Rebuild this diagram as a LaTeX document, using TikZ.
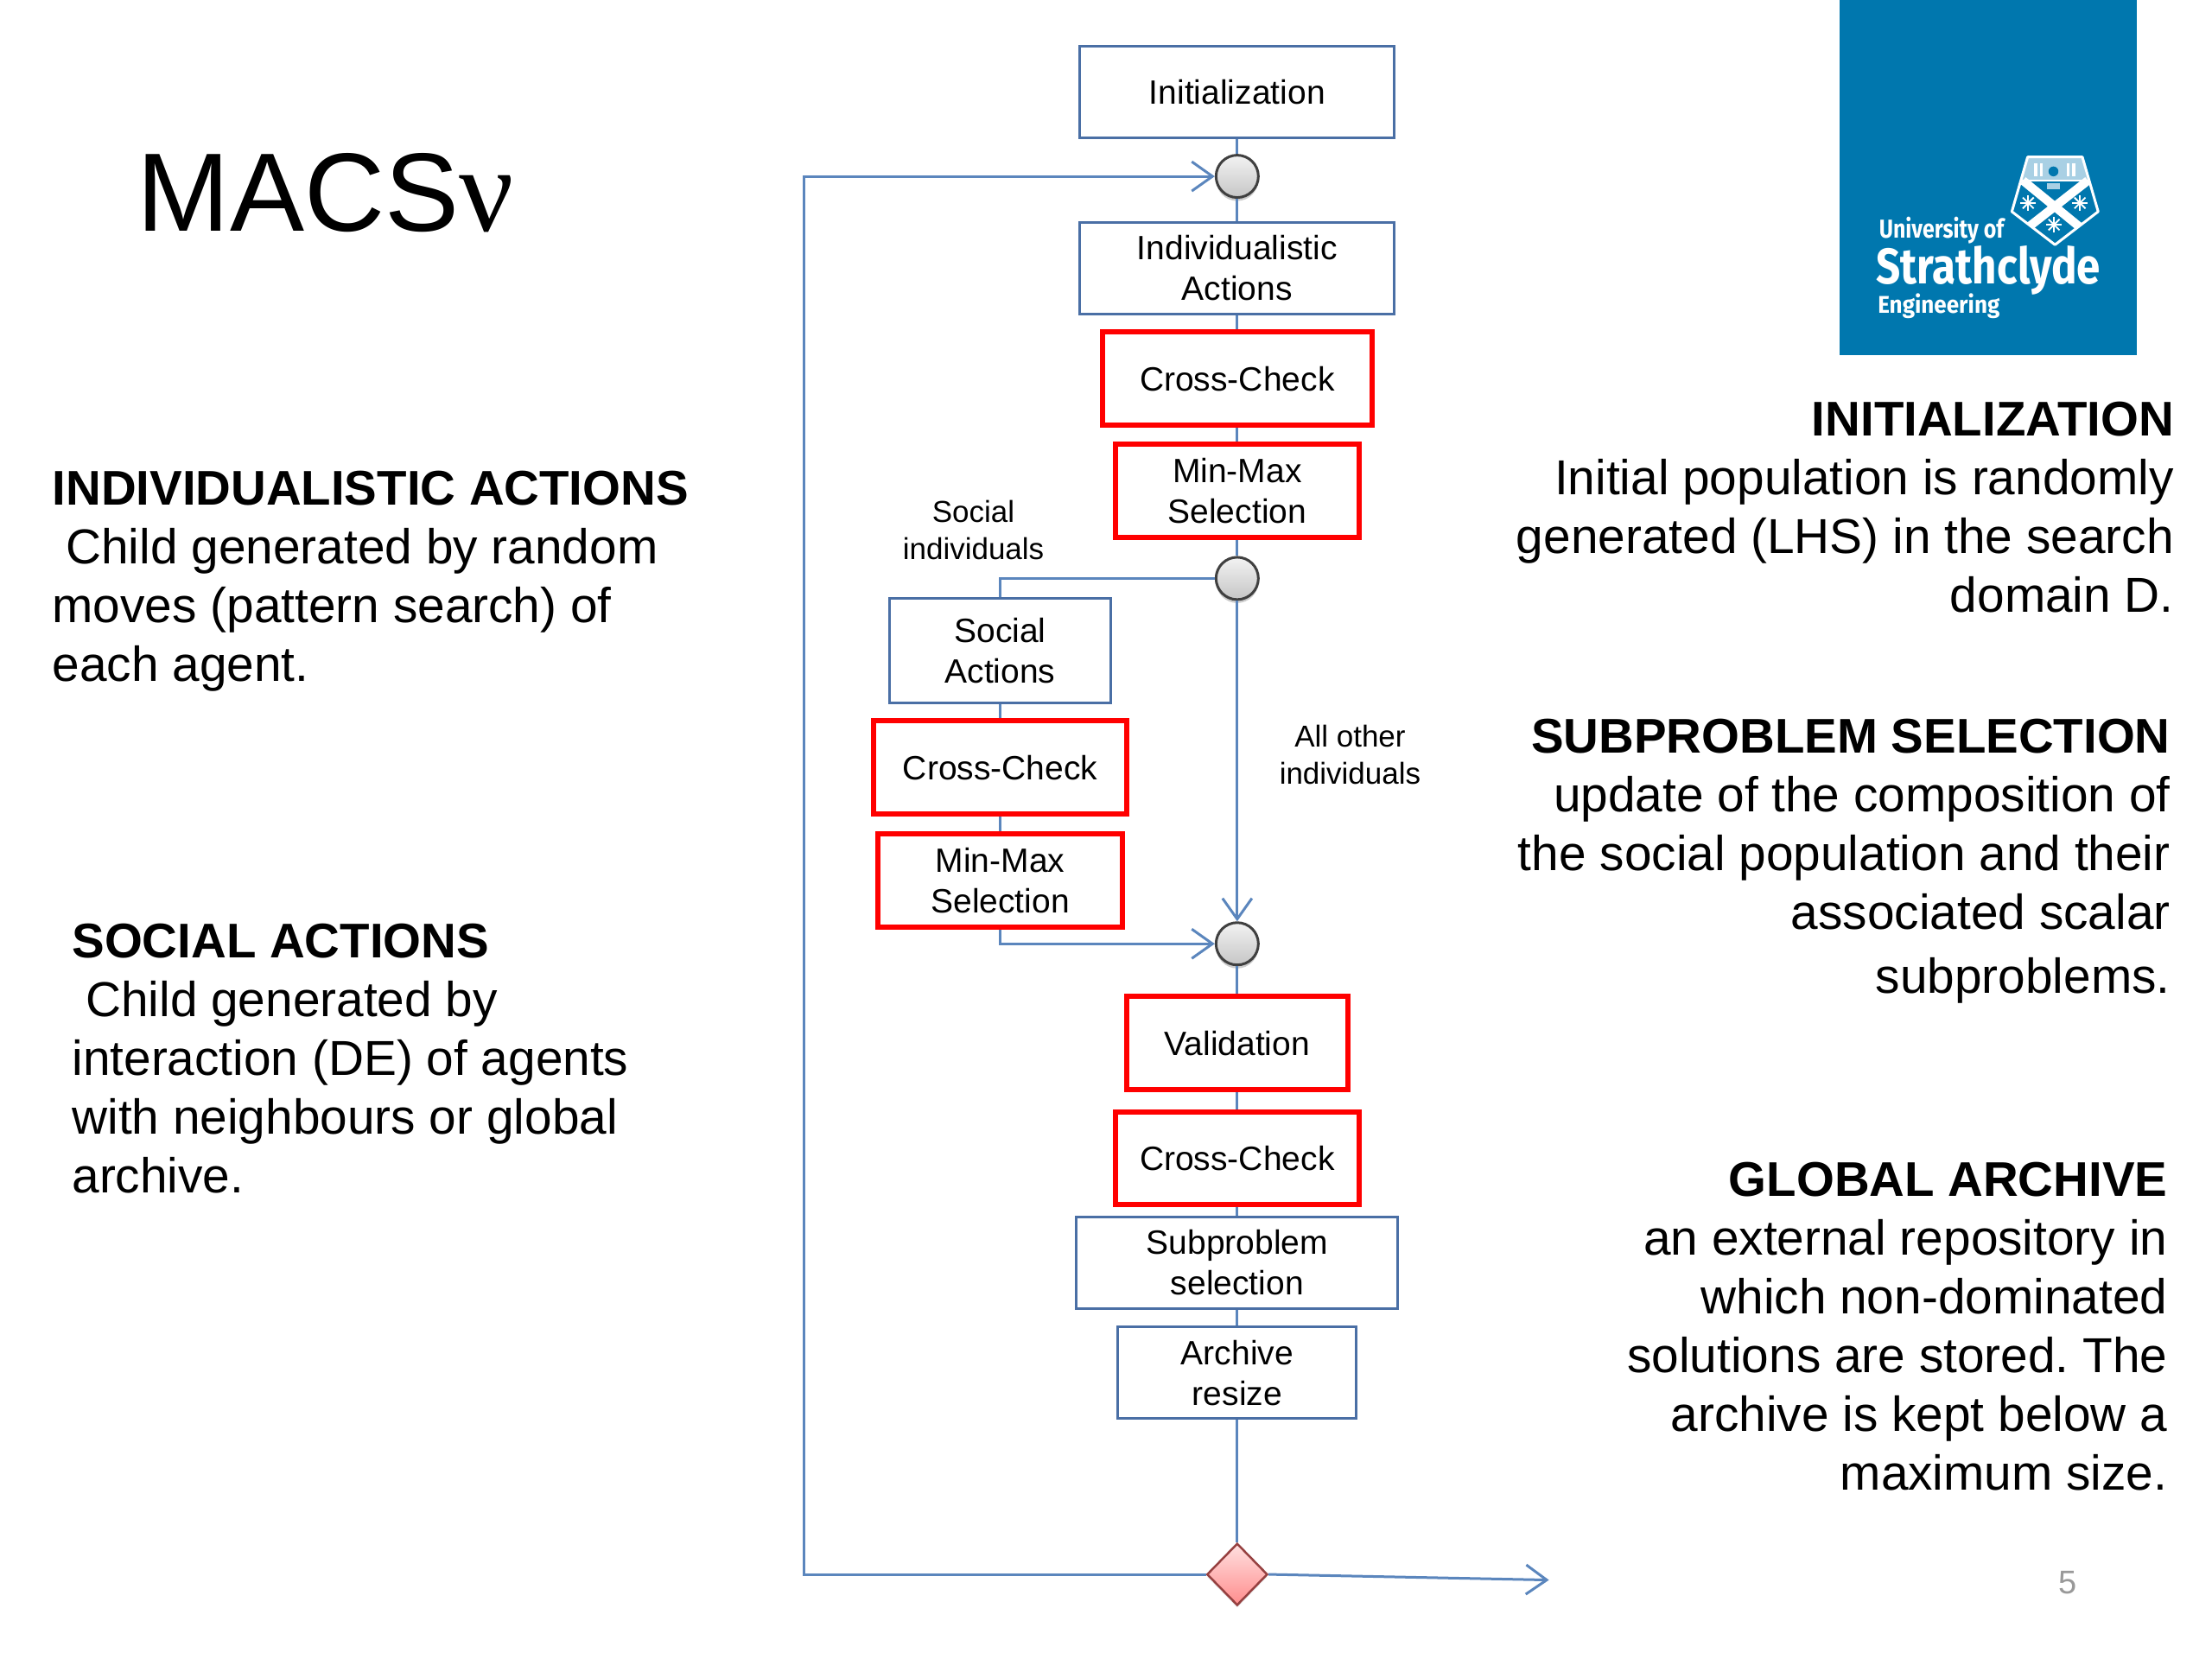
\documentclass[tikz,border=0pt]{standalone}
\usepackage{fontspec}
\setmainfont{Liberation Sans}
\newfontfamily\logofont{Fira Sans}
\newfontfamily\nufont{Liberation Serif}
\usetikzlibrary{arrows.meta,shapes.geometric,shadows}
\def\uu{1.6327pt}
\frenchspacing
\definecolor{lineblue}{HTML}{5B86BD}
\definecolor{boxblue}{HTML}{4A6FA5}
\definecolor{logoblue}{HTML}{0077AE}
\definecolor{crestpale}{HTML}{A9D0E4}
\tikzset{
  x=1.6327pt,y=-1.6327pt,
  flowbox/.style={draw=boxblue,line width=3pt,fill=white,align=center,inner sep=0pt,
    font=\fontsize{39}{47}\selectfont},
  redbox/.style={flowbox,draw=red,line width=6pt},
  joint/.style={circle,draw=black!75,line width=3pt,minimum size=30*\uu,inner sep=0pt,
    top color=gray!10,bottom color=gray!45,
    drop shadow={opacity=.4,shadow xshift=0pt,shadow yshift=-4pt}},
  gate/.style={diamond,draw=red!45!black!75,line width=2.5pt,minimum width=43*\uu,minimum height=44*\uu,
    inner sep=0pt,aspect=1,top color=red!12,bottom color=red!45,
    drop shadow={opacity=.2,shadow xshift=0pt,shadow yshift=-3pt}},
  flow/.style={draw=lineblue,line width=3pt},
  flowarrow/.style={flow,-{Straight Barb[length=24pt,width=34pt,line width=3pt]}},
  note/.style={align=center,inner sep=0pt,font=\fontsize{35}{43}\selectfont},
  bodyl/.style={align=left,inner sep=0pt,anchor=north west,font=\fontsize{56.8}{68}\selectfont},
  bodyr/.style={align=right,inner sep=0pt,anchor=north east,font=\fontsize{56.8}{68}\selectfont},
  logotext/.style={inner sep=0pt,anchor=base west,text=white,transform shape},
}
\newcommand{\headtxt}[1]{{\bfseries\fontsize{56.4}{68}\selectfont #1}}
\begin{document}
\begin{tikzpicture}
\useasboundingbox (0,0) rectangle (1568,1176);
% logo
\fill[logoblue] (1304,0) rectangle (1515,252);
\begin{scope}
  \clip (1437.3,111.3) -- (1476.1,111.3) -- (1487.3,150) -- (1456.7,173.5) -- (1426.1,150) -- cycle;
  \fill[crestpale] (1430,108) rectangle (1484,128);
  \draw[white,line width=1.6pt] (1432,128) -- (1482,128);
  \fill[logoblue] (1455.6,121.5) circle (3.5);
  \foreach \cx in {1442,1446,1465,1469} \fill[white] (\cx,116) rectangle ++(2,9);
  \draw[white,line width=10pt] (1434,128) -- (1478,164);
  \draw[white,line width=10pt] (1480,128) -- (1434,164);
  \foreach \fx/\fy in {1437.7/143.9,1474.4/143.9,1456/159.3}
    \foreach \fa in {0,45,90,135}
      \draw[white,line width=1.8pt] (\fx,\fy) ++(\fa:5.5) -- ++(\fa+180:11);
  \fill[crestpale] (1451,130) rectangle (1460,134);
\end{scope}
\draw[white,line width=3pt,line join=round] (1437.3,111.3) -- (1476.1,111.3) -- (1487.3,150) -- (1456.7,173.5) -- (1426.1,150) -- cycle;
\node[logotext,xscale=.83,font=\logofont\bfseries\fontsize{30}{30}\selectfont] (logoa) at (1332,169) {University of};
\node[logotext,xscale=.85,font=\logofont\bfseries\fontsize{58}{58}\selectfont] (logob) at (1330,201) {Strathclyde};
\node[logotext,xscale=.93,font=\logofont\bfseries\fontsize{28}{28}\selectfont] (logoc) at (1331,222) {Engineering};
% title
\node[inner sep=0pt,anchor=base west,font=\fontsize{129}{129}\selectfont] (title) at (97,164) {MACS{\nufont\fontsize{140}{140}\selectfont ν}};
% side texts
\node[bodyl] (indtext) at (37,334) {\headtxt{INDIVIDUALISTIC ACTIONS}\\\ Child generated by random\\moves (pattern search) of\\each agent.};
\node[bodyl] (soctext) at (51,655) {\headtxt{SOCIAL ACTIONS}\\\ Child generated by\\interaction (DE) of agents\\with neighbours or global\\archive.};
\node[bodyr] (inittext) at (1541,285) {\headtxt{INITIALIZATION}\\Initial population is randomly\\generated (LHS) in the search\\domain D.};
\node[bodyr] (subtext) at (1538.5,509.5) {\headtxt{SUBPROBLEM SELECTION}\\update of the composition of\\the social population and their\\associated scalar\\[6pt]subproblems.};
\node[bodyr] (arctext) at (1536.5,823.5) {\headtxt{GLOBAL ARCHIVE}\\an external repository in\\which non-dominated\\solutions are stored. The\\archive is kept below a\\maximum size.};
\node[inner sep=0pt,text=gray!80,font=\fontsize{38}{38}\selectfont] (pagenum) at (1466,1122) {5};
% flow nodes
\node[flowbox,minimum width=223*\uu,minimum height=65*\uu] (init) at (877,65) {Initialization};
\node[joint] (c1) at (877,125) {};
\node[flowbox,minimum width=223*\uu,minimum height=65*\uu] (ind) at (877,190) {Individualistic\\Actions};
\node[redbox,minimum width=191*\uu,minimum height=66*\uu] (cc1) at (877,268.5) {Cross-Check};
\node[redbox,minimum width=173*\uu,minimum height=66*\uu] (mm1) at (877,348) {Min-Max\\Selection};
\node[joint] (c2) at (877,410) {};
\node[flowbox,minimum width=157*\uu,minimum height=74*\uu] (soc) at (709,461) {Social\\Actions};
\node[redbox,minimum width=179*\uu,minimum height=66*\uu] (cc2) at (709,544) {Cross-Check};
\node[redbox,minimum width=173*\uu,minimum height=66*\uu] (mm2) at (709,624) {Min-Max\\Selection};
\node[joint] (c3) at (877,669) {};
\node[redbox,minimum width=157*\uu,minimum height=66*\uu] (val) at (877,739.5) {Validation};
\node[redbox,minimum width=173*\uu,minimum height=66*\uu] (cc3) at (877,821) {Cross-Check};
\node[flowbox,minimum width=228*\uu,minimum height=65*\uu] (sub) at (877,895) {Subproblem\\selection};
\node[flowbox,minimum width=169*\uu,minimum height=65*\uu] (arc) at (877,973) {Archive\\resize};
\node[gate] (gt) at (877,1116) {};
\node[note] (lsoc) at (690,376) {Social\\individuals};
\node[note] (loth) at (957,535) {All other\\individuals};
\coordinate (loopb) at (570,1116);
\coordinate (loopt) at (570,125);
\coordinate (exit) at (1098,1120);
% connectors
\draw[flow] (init) -- (c1);
\draw[flow] (c1) -- (ind);
\draw[flow] (ind) -- (cc1);
\draw[flow] (cc1) -- (mm1);
\draw[flow] (mm1) -- (c2);
\draw[flow] (c2.west) -| (soc.north);
\draw[flow] (soc) -- (cc2);
\draw[flow] (cc2) -- (mm2);
\draw[flowarrow] (c2) -- (c3);
\draw[flowarrow] (mm2.south) |- (c3.west);
\draw[flow] (c3) -- (val);
\draw[flow] (val) -- (cc3);
\draw[flow] (cc3) -- (sub);
\draw[flow] (sub) -- (arc);
\draw[flow] (arc) -- (gt);
\draw[flowarrow] (gt.west) -- (loopb) -- (loopt) -- (c1.west);
\draw[flowarrow] (gt.east) -- (exit);
\end{tikzpicture}
\end{document}
